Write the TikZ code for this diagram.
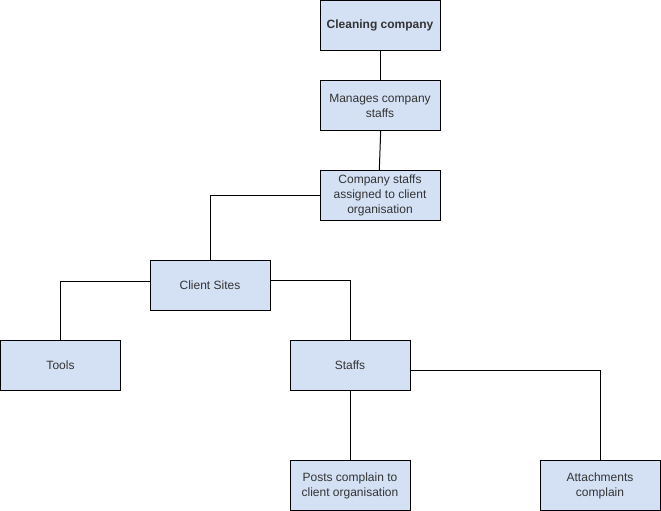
\documentclass[tikz,border=0pt]{standalone}
\usepackage{fontspec}
\setmainfont{Liberation Sans}
\usetikzlibrary{positioning}
\definecolor{boxblue}{HTML}{D4E1F5}
\definecolor{txtgray}{HTML}{333333}

\begin{document}
\begin{tikzpicture}
                    [x=1pt,y=-1pt,line width=1pt,
                     box/.style={draw,fill=boxblue,minimum width=120pt,minimum height=50pt,inner sep=2pt,
                                 align=center,text=txtgray,font=\fontsize{12}{15}\selectfont},
                     link/.style={draw,line width=1pt}]

                    \useasboundingbox (0,0) rectangle (661,511);

                    % top chain
                    \node[box,font=\fontsize{12}{15}\selectfont\bfseries] (company) at (380,25.5) {Cleaning company};
                    \node[box] (manage) at (380,105.5) {Manages company\\staffs};
                    \node[box] (assigned) at (380,195.5) {Company staffs\\assigned to client\\organisation};

                    % sites and below
                    \node[box] (sites) at (210,285.5) {Client Sites};
                    \node[box] (tools) at (60.5,365.5) {Tools};
                    \node[box] (staffs) at (350,365.5) {Staffs};
                    \node[box] (posts) at (350,485.5) {Posts complain to\\client organisation};
                    \node[box] (attach) at (600,485.5) {Attachments\\complain};

                    \draw[link] (company) -- (manage);
                    \draw[link] ([xshift=0.7pt]manage.south) -- ([xshift=-0.7pt]assigned.north);
                    \draw[link] (assigned.west) -| (sites.north);
                    \draw[link] ([yshift=4pt]sites.west) -| (tools.north);
                    \draw[link] ([yshift=5pt]sites.east) -| (staffs.north);
                    \draw[link] (staffs) -- (posts);
                    \draw[link] ([yshift=-5pt]staffs.east) -| (attach.north);

                \end{tikzpicture}
\end{document}
